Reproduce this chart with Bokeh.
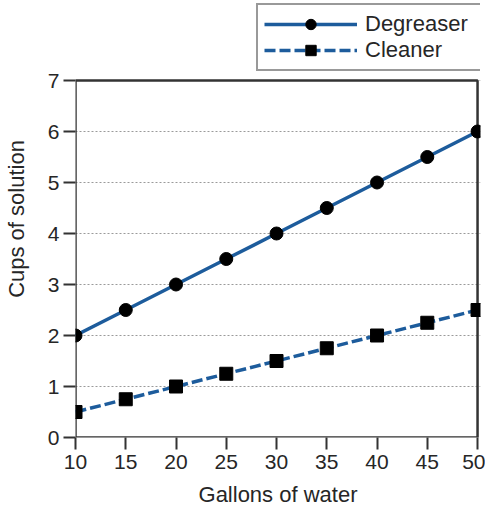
from bokeh.plotting import figure
from bokeh.models import Legend, LegendItem, Range1d, FixedTicker
from bokeh.embed import file_html
from bokeh.resources import INLINE

gallons = [10, 15, 20, 25, 30, 35, 40, 45, 50]
degreaser = [2, 2.5, 3, 3.5, 4, 4.5, 5, 5.5, 6]
cleaner = [0.5, 0.75, 1, 1.25, 1.5, 1.75, 2, 2.25, 2.5]
x_ticks = [10, 15, 20, 25, 30, 35, 40, 45, 50]
y_ticks = [0, 1, 2, 3, 4, 5, 6, 7]

FONT = "Liberation Sans"
TXT = "#262626"
BLUE = "#1d5c9c"
EDGE = "#333333"

# layout: the frame reaches up to the top so the legend can sit above the plot box
W = 485
H = 511
LEFT = 69
RIGHT = 5
BOTTOM = 74
FRAME_W = W - LEFT - RIGHT
FRAME_H = H - BOTTOM
BOX_W_PX = 408                # px from frame left to the x=50 line
BOX_TOP_PX = 80               # px from frame top down to the y=7 line
x_right = x_ticks[0] + (x_ticks[-1] - x_ticks[0]) * FRAME_W / BOX_W_PX
y_top = y_ticks[-1] * FRAME_H / (FRAME_H - BOX_TOP_PX)

p = figure(width=W, height=H, output_backend="svg", toolbar_location=None,
           x_range=Range1d(x_ticks[0], x_right), y_range=Range1d(y_ticks[0], y_top),
           min_border_left=LEFT, min_border_right=RIGHT, min_border_top=0, min_border_bottom=BOTTOM)

p.background_fill_color = "white"
p.border_fill_color = "white"
p.outline_line_color = None

p.xgrid.grid_line_color = None
p.ygrid.grid_line_color = "#9a9a9a"
p.ygrid.grid_line_dash = "2 2"
p.ygrid.grid_line_width = 1

for ax in (p.xaxis[0], p.yaxis[0]):
    ax.axis_line_color = None
    ax.major_tick_line_color = EDGE
    ax.major_tick_line_width = 2
    ax.major_tick_out = 12
    ax.major_tick_in = 0
    ax.minor_tick_line_color = None
    ax.major_label_text_font = FONT
    ax.major_label_text_font_size = "21px"
    ax.major_label_text_color = TXT
    ax.axis_label_text_font = FONT
    ax.axis_label_text_font_size = "22px"
    ax.axis_label_text_font_style = "normal"
    ax.axis_label_text_color = TXT

p.xaxis.ticker = FixedTicker(ticks=x_ticks)
p.yaxis.ticker = FixedTicker(ticks=y_ticks)
p.xaxis.axis_label = "Gallons of water"
p.yaxis.axis_label = "Cups of solution"
p.xaxis.major_label_standoff = 5
p.yaxis.major_label_standoff = 4
p.xaxis.axis_label_standoff = 10
p.yaxis.axis_label_standoff = 16

# plot box (axes lines + top/right border), drawn from the axis extents
p.quad(left=[x_ticks[0]], right=[x_ticks[-1]], bottom=[y_ticks[0]], top=[y_ticks[-1]],
       fill_color=None, line_color=EDGE, line_width=2.5)

l1 = p.line(gallons, degreaser, line_color=BLUE, line_width=3.5)
s1 = p.scatter(gallons, degreaser, marker="circle", size=13, fill_color="black", line_color="black")
l2 = p.line(gallons, cleaner, line_color=BLUE, line_width=3.5, line_dash="11 4")
s2 = p.scatter(gallons, cleaner, marker="square", size=13, fill_color="black", line_color="black")

legend = Legend(items=[LegendItem(label="Degreaser", renderers=[l1, s1]),
                       LegendItem(label="Cleaner", renderers=[l2, s2])],
                location=(181, FRAME_H - 71))
legend.label_text_font = FONT
legend.label_text_font_size = "22px"
legend.label_text_color = TXT
legend.glyph_width = 93
legend.glyph_height = 26
legend.label_height = 26
legend.label_width = 114
legend.label_standoff = 8
legend.spacing = 0
legend.padding = 6
legend.margin = 0
legend.border_line_color = EDGE
legend.border_line_width = 2
legend.background_fill_alpha = 1.0
p.add_layout(legend)

open("out.html", "w").write(file_html(p, INLINE))
